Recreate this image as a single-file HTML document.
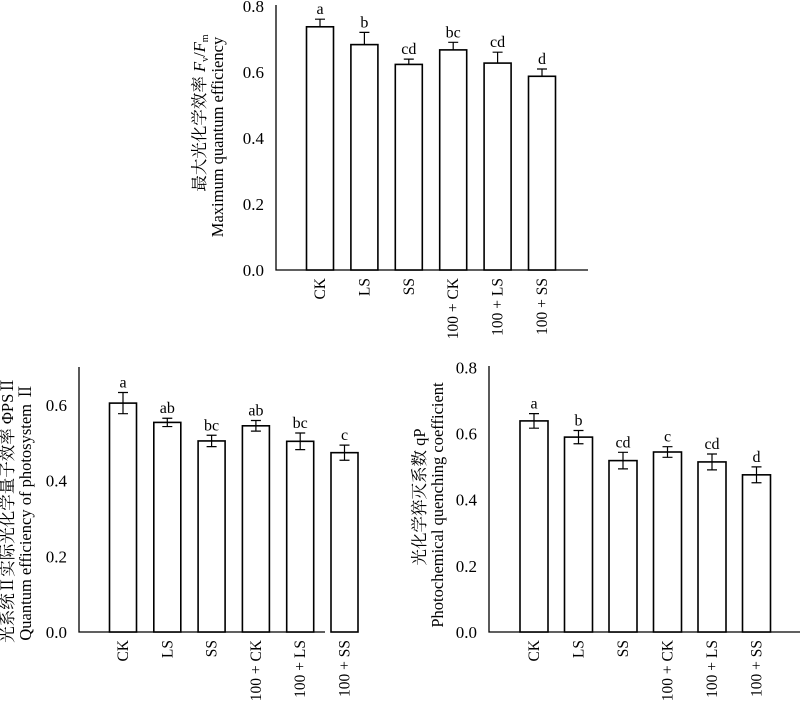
<!DOCTYPE html>
<html><head><meta charset="utf-8"><style>
body{margin:0;background:#fff}
svg text{font-family:"Liberation Serif","Noto Serif CJK SC",serif;fill:#000}
</style></head><body>
<svg id="fig" width="800" height="701" viewBox="0 0 800 701" xmlns="http://www.w3.org/2000/svg"></svg>
<script>
const categories = ["CK","LS","SS","100 + CK","100 + LS","100 + SS"];
const fvfmValues = [0.737,0.683,0.623,0.667,0.627,0.587];
const fvfmErrors = [0.023,0.037,0.016,0.023,0.033,0.022];
const fvfmLetters = ["a","b","cd","bc","cd","d"];
const phiValues = [0.605,0.554,0.505,0.545,0.504,0.474];
const phiErrors = [0.028,0.011,0.015,0.014,0.022,0.020];
const phiLetters = ["a","ab","bc","ab","bc","c"];
const qpValues = [0.638,0.589,0.518,0.544,0.514,0.475];
const qpErrors = [0.022,0.020,0.025,0.016,0.024,0.024];
const qpLetters = ["a","b","cd","c","cd","d"];
const ticks08 = [0.0,0.2,0.4,0.6,0.8];
const ticks06 = [0.0,0.2,0.4,0.6];

const NS="http://www.w3.org/2000/svg";
const svg=document.getElementById('fig');
function mk(tag,attrs,parent,txt){const e=document.createElementNS(NS,tag);for(const k in attrs)e.setAttribute(k,attrs[k]);if(txt!==undefined)e.textContent=txt;parent.appendChild(e);return e;}

function chart(cfg){
  const g=mk('g',{},svg);
  
  
  const y=v=>cfg.y0-(v/cfg.ymax)*(cfg.y0-cfg.yTop);
  const x=i=>cfg.c0+i*cfg.step;
  const ax=mk('path',{d:`M${cfg.ax} ${cfg.axTop} V${cfg.y0} H${cfg.axRight}`,fill:'none',stroke:'#000','stroke-width':1.3},g);
  
  
  cfg.ticks.forEach(t=>{
    const tl=mk('text',{x:cfg.ax-12,y:y(t)+6,'text-anchor':'end','font-size':17},g,t.toFixed(1));
    
    
  });
  cfg.values.forEach((v,i)=>{
    const cx=x(i),w=cfg.bw;
    const b=mk('rect',{x:cx-w/2,y:y(v),width:w,height:cfg.y0-y(v),fill:'#fff',stroke:'#000','stroke-width':1.6},g);
    
    
    const top=y(v+cfg.errors[i]),bot=cfg.both?y(v-cfg.errors[i]):y(v);
    const e=mk('path',{d:`M${cx} ${top} V${bot} M${cx-5} ${top} H${cx+5}`+(cfg.both?` M${cx-5} ${bot} H${cx+5}`:''),stroke:'#000','stroke-width':1.2,fill:'none'},g);
    
    
    const l=mk('text',{x:cx,y:top-5,'text-anchor':'middle','font-size':16},g,cfg.letters[i]);
    
    
    const xl=mk('text',{transform:`translate(${cx+5},${cfg.y0+8}) rotate(-90)`,'text-anchor':'end','font-size':15.5},g,categories[i]);
    
    
  });
  cfg.titles.forEach((t,k)=>{
    const tt=mk('text',{transform:`translate(${cfg.titleX[k]},${cfg.titleY[k]}) rotate(-90)`,'text-anchor':'middle','font-size':16.5},g);
    tt.innerHTML=t;
    
    
  });
}

chart({name:'chart-fvfm',values:fvfmValues,errors:fvfmErrors,letters:fvfmLetters,ticks:ticks08,ymax:0.8,
  y0:270,yTop:6,axTop:5,ax:276,axRight:588,c0:320,step:44.4,bw:27,both:false,
  titles:['最大光化学效率 <tspan font-style="italic">F</tspan><tspan font-size="10" dy="3">v</tspan><tspan dy="-3">/</tspan><tspan font-style="italic">F</tspan><tspan font-size="10" dy="3">m</tspan>','Maximum quantum efficiency'],
  titleX:[205,223],titleY:[113,137]});
chart({name:'chart-phi-psii',values:phiValues,errors:phiErrors,letters:phiLetters,ticks:ticks06,ymax:0.6,
  y0:632,yTop:405,axTop:367,ax:79,axRight:325,c0:123,step:44.3,bw:27,both:true,
  titles:['光系统Ⅱ实际光化学量子效率 ΦPSⅡ','Quantum efficiency of photosystem Ⅱ'],
  titleX:[13,31],titleY:[510,512]});
chart({name:'chart-qp',values:qpValues,errors:qpErrors,letters:qpLetters,ticks:ticks08,ymax:0.8,
  y0:632,yTop:367.3,axTop:366,ax:489,axRight:800,c0:534,step:44.5,bw:28,both:true,
  titles:['光化学猝灭系数 qP','Photochemical quenching coefficient'],
  titleX:[425,443],titleY:[497,505]});
</script>
</body></html>
